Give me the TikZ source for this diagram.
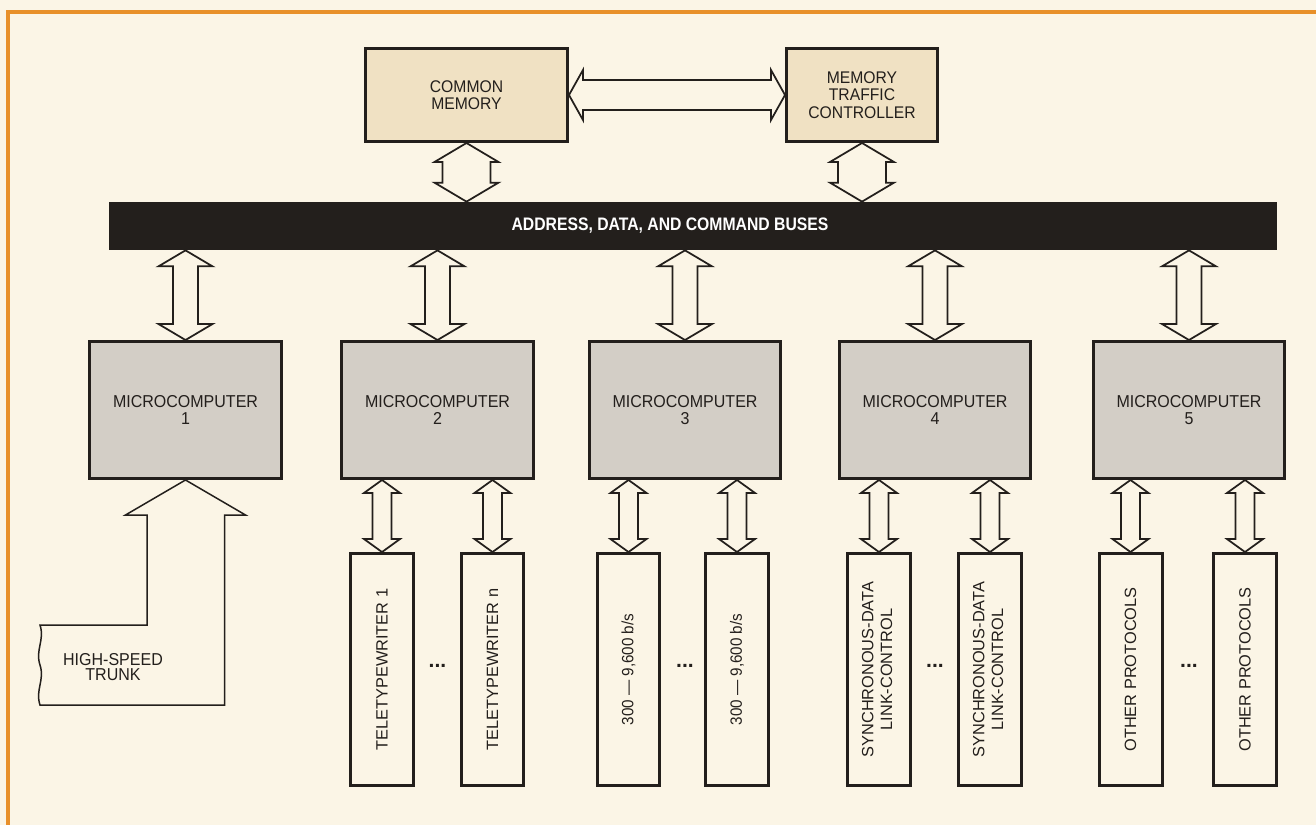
\documentclass[tikz,border=0pt]{standalone}
\usepackage{fontspec}
\setmainfont{Liberation Sans}
\newfontfamily\condfont[FakeStretch=0.93]{Liberation Sans}
\newfontfamily\busfont[FakeStretch=0.87]{Liberation Sans}
\usetikzlibrary{calc}
\definecolor{cpaper}{HTML}{FBF5E6}
\definecolor{corange}{HTML}{E8902A}
\definecolor{ctan}{HTML}{F0E1C3}
\definecolor{cgrey}{HTML}{D3CEC6}
\definecolor{cink}{HTML}{231F1C}
\tikzset{
  every picture/.style={x=0.02cm, y=-0.02cm},
  membox/.style={draw=cink, fill=ctan, line width=0.06cm, align=center, minimum height=1.86cm, text=cink, font=\condfont\fontsize{9.6}{9.8}\selectfont},
  mcbox/.style={draw=cink, fill=cgrey, line width=0.06cm, align=center, minimum width=3.84cm, minimum height=2.74cm, text=cink, font=\condfont\fontsize{9.8}{9.8}\selectfont},
  portbox/.style={draw=cink, fill=cpaper, line width=0.06cm, minimum width=1.26cm, minimum height=4.64cm, inner sep=0pt, text=cink, font=\fontsize{9.3}{10.6}\selectfont},
  busbar/.style={fill=cink, minimum width=23.36cm, minimum height=0.96cm, inner sep=0pt},
  buslabel/.style={text=white, font=\busfont\bfseries\fontsize{10.3}{12}\selectfont},
  busarrow/.style={draw=cink, fill=cpaper, line width=0.035cm, line join=miter},
  trunkline/.style={draw=cink, fill=cpaper, line width=0.03cm},
  trunklabel/.style={align=center, text=cink, font=\condfont\fontsize{9.8}{8.8}\selectfont},
  dots/.style={text=cink, font=\bfseries\fontsize{12}{12}\selectfont},
}
% double-headed outline arrows: from, to, head half width, shaft half width, head length
\newcommand\dblv[5]{%
  \draw[busarrow] (#1) -- ($(#1)+(#3,#5)$) -- ($(#1)+(#4,#5)$) -- ($(#2)+(#4,-#5)$)
    -- ($(#2)+(#3,-#5)$) -- (#2) -- ($(#2)+(-#3,-#5)$) -- ($(#2)+(-#4,-#5)$)
    -- ($(#1)+(-#4,#5)$) -- ($(#1)+(-#3,#5)$) -- cycle;}
\newcommand\dblh[5]{%
  \draw[busarrow] (#1) -- ($(#1)+(#5,-#3)$) -- ($(#1)+(#5,-#4)$) -- ($(#2)+(-#5,-#4)$)
    -- ($(#2)+(-#5,-#3)$) -- (#2) -- ($(#2)+(-#5,#3)$) -- ($(#2)+(-#5,#4)$)
    -- ($(#1)+(#5,#4)$) -- ($(#1)+(#5,#3)$) -- cycle;}

\begin{document}
\begin{tikzpicture}
  \useasboundingbox (0,0) rectangle (1316,825);
  \fill[cpaper] (0,0) rectangle (1316,825);
  \draw[corange, line width=0.07cm] (8,825) -- (8,12) -- (1316,12);
  % memory and bus
  \node[membox, minimum width=4.04cm] (cm) at (466.5,95) {COMMON\\MEMORY};
  \node[membox, minimum width=3.02cm] (mtc) at (862,95) {MEMORY\\TRAFFIC\\CONTROLLER};
  \node[busbar] (bus) at (693,226) {};
  \node[buslabel] (buslbl) at (670,226) {ADDRESS, DATA, AND COMMAND BUSES};
  \dblh{cm.east}{mtc.west}{25}{15}{14}
  \coordinate (cmbus) at (cm.south |- bus.north);
  \coordinate (mtcbus) at (mtc.south |- bus.north);
  \dblv{cm.south}{cmbus}{32}{24}{19}
  \dblv{mtc.south}{mtcbus}{32}{24}{19}
  % microcomputers
  \foreach \x [count=\i] in {185.5, 437.5, 685, 935, 1189} {
    \node[mcbox] (mc\i) at (\x,410) {MICROCOMPUTER\\\i};
    \coordinate (mctop\i) at (mc\i.north |- bus.south);
    \dblv{mctop\i}{mc\i.north}{27}{12.5}{16}
  }
  % lines
  \foreach \n/\m/\x/\txt in {p1/2/382/{TELETYPEWRITER 1}, p2/2/492.5/{TELETYPEWRITER n},
      p3/3/628.5/{\condfont 300 — 9,600 b/s}, p4/3/737/{\condfont 300 — 9,600 b/s},
      p5/4/879/{\begin{tabular}{@{}c@{}}SYNCHRONOUS-DATA\\LINK-CONTROL\end{tabular}},
      p6/4/990/{\begin{tabular}{@{}c@{}}SYNCHRONOUS-DATA\\LINK-CONTROL\end{tabular}},
      p7/5/1130.5/{OTHER PROTOCOLS}, p8/5/1245/{OTHER PROTOCOLS}} {
    \node[portbox] (\n) at (\x,669.5) {\rotatebox{90}{\txt}};
    \coordinate (\n-up) at (\n.north |- mc\m.south);
    \dblv{\n-up}{\n.north}{18}{9.5}{13}
  }
  \foreach \m in {2,...,5}
    \node[dots] (dots\m) at (mc\m |- 0,666) {...};
  % trunk
  \draw[trunkline] (mc1.south) -- (245.5,515) -- (224.5,515) -- (224.5,705) -- (40,705)
    .. controls (35,690) and (45,680) .. (40,665) .. controls (35,650) and (45,640) .. (40,625)
    -- (147,625) -- (147,515) -- (125.5,515) -- cycle;
  \node[trunklabel] (trunk) at (113,667) {HIGH-SPEED\\TRUNK};
\end{tikzpicture}
\end{document}
